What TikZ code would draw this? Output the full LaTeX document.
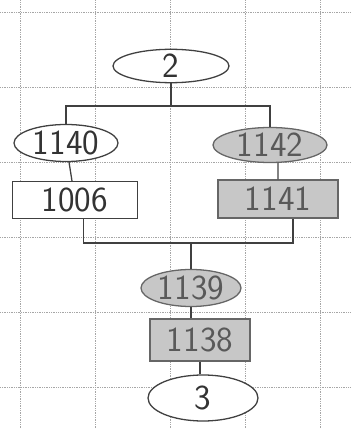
\documentclass[tikz,border=0pt]{standalone}
\usetikzlibrary{positioning, shapes.geometric, calc}

\begin{document}
\begin{tikzpicture}[
  oval/.style={draw=black!75, ellipse, line width=1.1pt, inner sep=0pt, align=center,
               font=\sffamily\fontsize{30}{32}\selectfont, text=black!80},
  card/.style={draw=black!75, rectangle, line width=1.1pt, inner sep=0pt, align=center,
               font=\sffamily\fontsize{30}{32}\selectfont, text=black!80},
  shade/.style={fill=black!22, draw=black!60, text=black!65},
  link/.style={draw=black!75, line width=1.1pt},
  gridline/.style={draw=black!35, densely dotted, line width=0.5pt},
]
\useasboundingbox (0,0) rectangle (10.5,12.84);

% Grid paper
\foreach \gx in {0.6, 2.85, 5.1, 7.35, 9.6}
  \draw[gridline] (\gx,0) -- (\gx,12.84);
\foreach \gy in {1.23, 3.48, 5.73, 7.98, 10.23, 12.48}
  \draw[gridline] (0,\gy) -- (10.5,\gy);

% Nodes
\node[oval, minimum width=3.48cm, minimum height=0.96cm, fill=white] (n2) at (5.13, 10.86) {2};
\node[oval, minimum width=3.12cm, minimum height=1.11cm, fill=white] (n1140) at (1.98, 8.55) {1140};
\node[oval, shade, minimum width=3.42cm, minimum height=1.05cm] (n1142) at (8.10, 8.49) {1142};
\node[card, minimum width=3.75cm, minimum height=1.11cm, fill=white] (n1006) at (2.25, 6.84) {1006};
\node[card, shade, minimum width=3.6cm, minimum height=1.14cm] (n1141) at (8.34, 6.87) {1141};
\node[oval, shade, minimum width=3.0cm, minimum height=1.11cm] (n1139) at (5.73, 4.20) {1139};
\node[card, shade, minimum width=3.0cm, minimum height=1.26cm] (n1138) at (6.0, 2.64) {1138};
\node[oval, minimum width=3.3cm, minimum height=1.38cm, fill=white] (n3) at (6.09, 0.90) {3};

\coordinate (split) at (5.13, 9.66);
\coordinate (merge) at (5.73, 5.55);

% Links
\draw[link] (n2) -- (split);
\draw[link] (split) -| (n1140);
\draw[link] (split) -| (n1142);
\draw[link] (n1140) -- (n1006);
\draw[link] (n1142) -- (n1141 |- n1142.south) -- (n1141);
\draw[link] ([xshift=0.25cm]n1006.south) |- (merge);
\draw[link] ([xshift=0.45cm]n1141.south) |- (merge);
\draw[link] (merge) -- (n1139);
\draw[link] (n1139) -- (n1139 |- n1138.north);
\draw[link] (n1138) -- (n1138 |- n3.north);

\end{tikzpicture}
\end{document}
